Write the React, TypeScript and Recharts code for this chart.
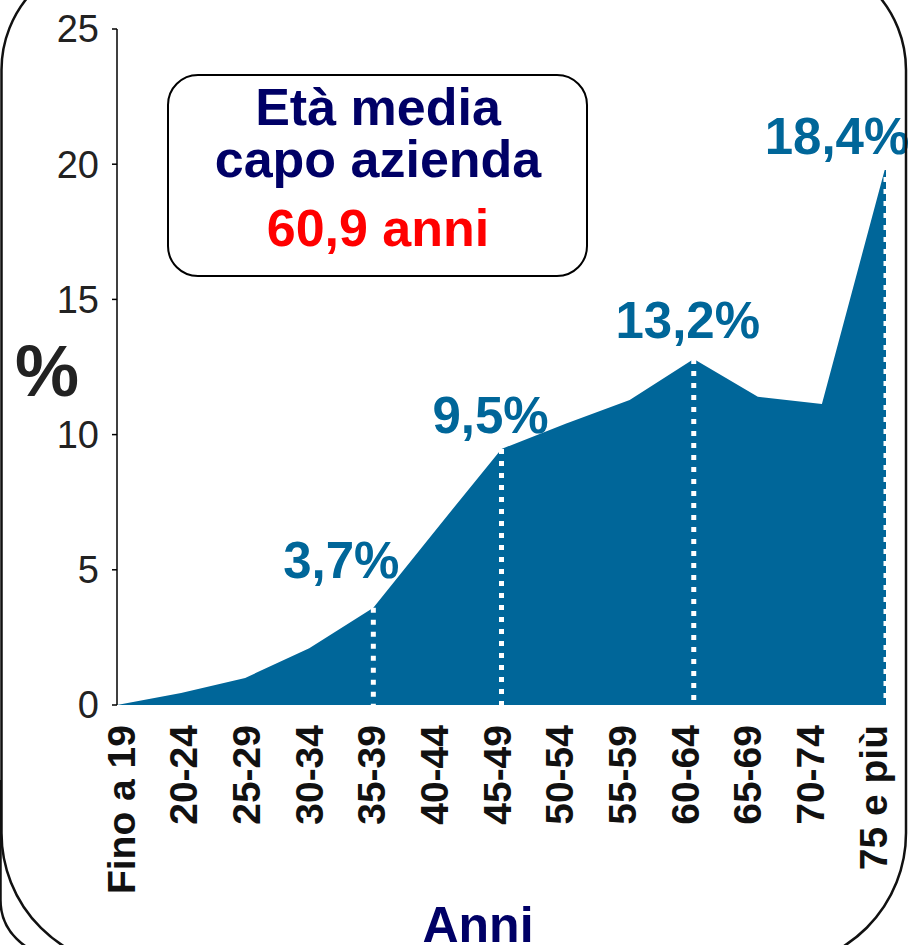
import React from 'react';
import { AreaChart, Area, XAxis, YAxis, ReferenceLine, LabelList } from 'recharts';

const categories = ['Fino a 19', '20-24', '25-29', '30-34', '35-39', '40-44', '45-49', '50-54', '55-59', '60-64', '65-69', '70-74', '75 e più'];
const values = [0, 0.44, 1.0, 2.1, 3.6, 6.55, 9.47, 10.4, 11.28, 12.8, 11.4, 11.13, 19.97];
const pointLabels = [null, null, null, null, '3,7%', null, '9,5%', null, null, '13,2%', null, null, '18,4%'];
const yTicks = [0, 5, 10, 15, 20, 25];

const boxTitle = ['Età media', 'capo azienda'];
const boxValue = '60,9 anni';
const yTitle = '%';
const xTitle = 'Anni';

const data = categories.map((c, i) => ({ cat: c, value: values[i], label: pointLabels[i] ?? '' }));

const FONT = '"Liberation Sans", Arial, Helvetica, sans-serif';
const AREA_COLOR = '#006699';
const NAVY = '#000066';

// label placement relative to the data point (style only)
const LABEL_SHIFT: Record<number, [number, number]> = {
  4: [-32, -30],
  6: [-11, -16],
  9: [-6, -21],
  12: [-49, -11],
};

const PointLabel = (props: any) => {
  const { x, y, value } = props;
  if (!value) return null;
  let idx = props.index;
  if (idx === undefined || idx === null) idx = pointLabels.indexOf(value);
  const [dx, dy] = LABEL_SHIFT[idx] || [0, -20];
  return (
    <text
      x={x + dx}
      y={y + dy}
      textAnchor="middle"
      fill={AREA_COLOR}
      fontSize={51}
      fontWeight="bold"
      fontFamily={FONT}
    >
      {value}
    </text>
  );
};

const XTick = (props: any) => {
  const { x, y, payload } = props;
  return (
    <text
      x={x}
      y={y}
      transform={`rotate(-90, ${x}, ${y})`}
      textAnchor="end"
      dy="0.35em"
      fill="#111"
      fontSize={39}
      fontWeight="bold"
      fontFamily={FONT}
    >
      {payload.value}
    </text>
  );
};

export default function App() {
  return (
    <div
      style={{
        position: 'fixed',
        left: 0,
        top: 0,
        width: 915,
        height: 945,
        overflow: 'hidden',
        background: '#fff',
        fontFamily: FONT,
      }}
    >
      <AreaChart width={915} height={945} data={data} margin={{ top: 29, right: 29, left: 0, bottom: 0 }}>
        <XAxis
          xAxisId="main"
          dataKey="cat"
          height={0}
          tick={false}
          ticks={[categories[0]]}
          tickSize={11}
          tickLine={{ stroke: '#000', strokeWidth: 1.5 }}
          axisLine={{ stroke: '#000', strokeWidth: 1.5 }}
        />
        <XAxis
          xAxisId="labels"
          dataKey="cat"
          height={240}
          axisLine={false}
          tickLine={false}
          tickSize={0}
          tickMargin={20}
          interval={0}
          padding={{ left: 4, right: 13 }}
          tick={<XTick />}
        />
        <YAxis
          domain={[0, 25]}
          ticks={yTicks}
          interval={0}
          width={117}
          axisLine={{ stroke: '#000', strokeWidth: 1.5 }}
          tickLine={{ stroke: '#000', strokeWidth: 1.5 }}
          tickSize={5}
          tickMargin={13}
          tick={{ fontSize: 38, fill: '#222', fontFamily: FONT }}
        />
        <Area
          xAxisId="main"
          type="linear"
          dataKey="value"
          stroke="none"
          fill={AREA_COLOR}
          fillOpacity={1}
          isAnimationActive={false}
          dot={false}
          activeDot={false}
        >
          <LabelList dataKey="label" content={<PointLabel />} />
        </Area>
        {categories.map((c, i) =>
          pointLabels[i] ? (
            <ReferenceLine
              key={c}
              xAxisId="main"
              segment={[
                { x: c, y: values[i] },
                { x: c, y: 0 },
              ]}
              stroke="#fff"
              strokeWidth={5}
              strokeDasharray="5 7"
              ifOverflow="visible"
            />
          ) : null
        )}
      </AreaChart>

      <svg width={915} height={945} style={{ position: 'absolute', left: 0, top: 0, pointerEvents: 'none' }}>
        <path
          d="M 115 -44 H 792 A 114 114 0 0 1 906 70 V 833 A 134 134 0 0 1 772 967 H 136 A 134 134 0 0 1 1.5 833 V 70 A 114 114 0 0 1 115 -44 Z"
          fill="none"
          stroke="#111"
          strokeWidth={2.5}
        />
        <path d="M 0.5 780 V 900 A 55 55 0 0 0 55 955" fill="none" stroke="#111" strokeWidth={2.5} />
        <rect x={168} y={75} width={419} height={201} rx={30} ry={30} fill="#fff" stroke="#000" strokeWidth={2} />
        <text x={378} y={125} textAnchor="middle" fill={NAVY} fontSize={52} fontWeight="bold" fontFamily={FONT}>
          {boxTitle[0]}
        </text>
        <text x={378} y={177} textAnchor="middle" fill={NAVY} fontSize={52} fontWeight="bold" fontFamily={FONT}>
          {boxTitle[1]}
        </text>
        <text x={378} y={246} textAnchor="middle" fill="#ff0000" fontSize={52} fontWeight="bold" fontFamily={FONT}>
          {boxValue}
        </text>
        <text x={47} y={396} textAnchor="middle" fill="#222" fontSize={72} fontWeight="bold" fontFamily={FONT}>
          {yTitle}
        </text>
        <text x={478} y={942} textAnchor="middle" fill={NAVY} fontSize={50} fontWeight="bold" fontFamily={FONT}>
          {xTitle}
        </text>
      </svg>
    </div>
  );
}
